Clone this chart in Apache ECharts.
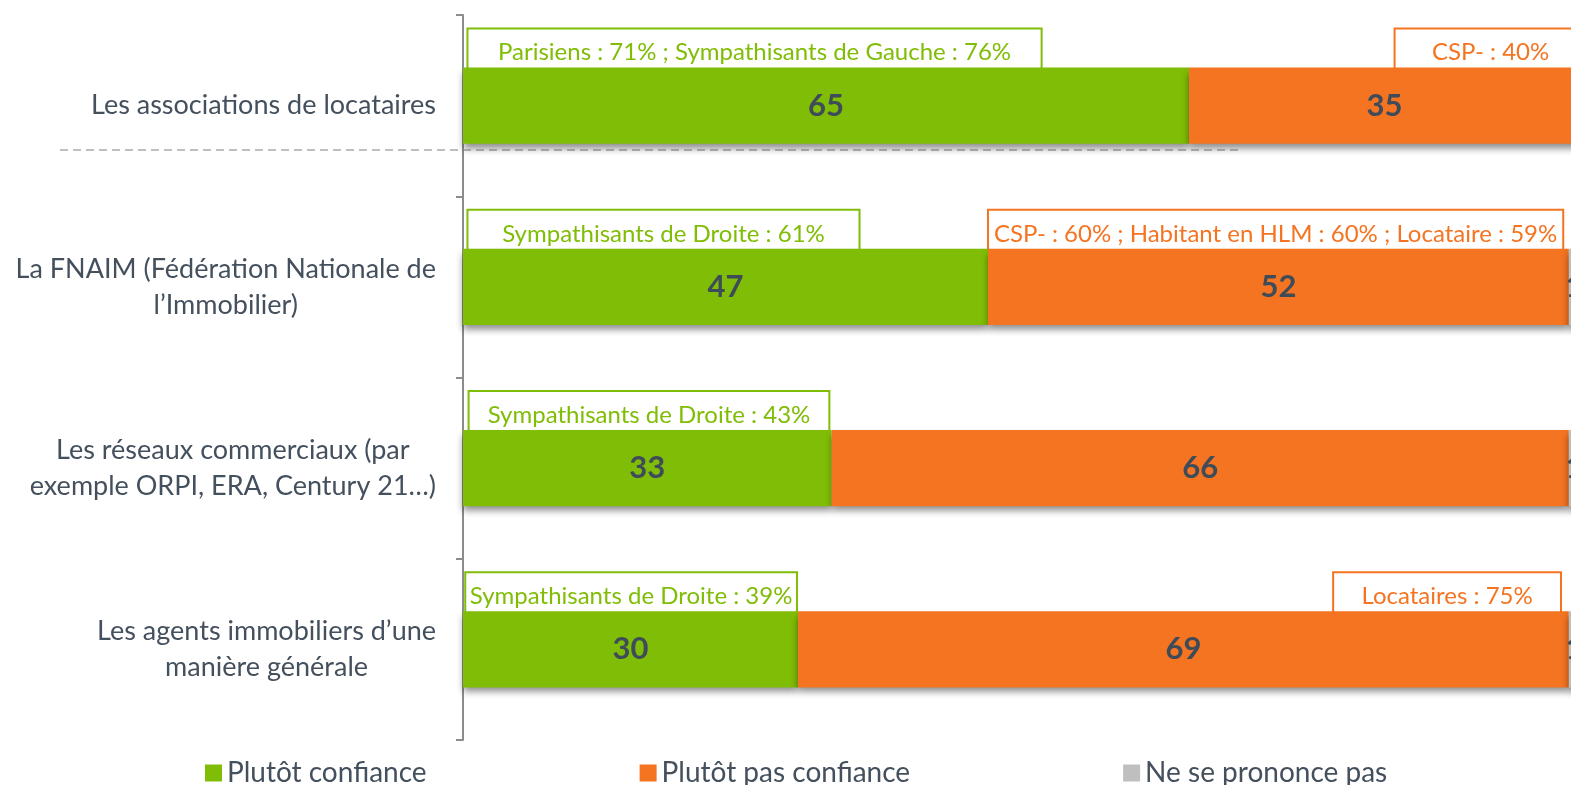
<!DOCTYPE html>
<html>
<head>
<meta charset="utf-8">
<script src="https://cdn.jsdelivr.net/npm/echarts@6/dist/echarts.min.js"></script>
<style>
html, body { margin: 0; padding: 0; background: #fff; }
#chart { width: 1571px; height: 785px; }
</style>
</head>
<body>
<div id="chart"></div>
<script>
// données
const categories = [
    'Les associations de locataires',
    'La FNAIM (Fédération Nationale de\nl’Immobilier)',
    'Les réseaux commerciaux (par\nexemple ORPI, ERA, Century 21…)',
    'Les agents immobiliers d’une\nmanière générale'
];
const seriesNames = ['Plutôt confiance', 'Plutôt pas confiance', 'Ne se prononce pas'];
const confiance = [65, 47, 33, 30];
const pasConfiance = [35, 52, 66, 69];
const nsp = [0, 1, 1, 1];

// encadrés au-dessus des barres : texte, ligne, début et fin (en % de l'axe)
const noteTexts = [
    'Parisiens : 71% ; Sympathisants de Gauche : 76%',
    'CSP- : 40%',
    'Sympathisants de Droite : 61%',
    'CSP- : 60% ; Habitant en HLM : 60% ; Locataire : 59%',
    'Sympathisants de Droite : 43%',
    'Sympathisants de Droite : 39%',
    'Locataires : 75%'
];
const noteRows = [0, 0, 1, 1, 2, 3, 3];
const noteFrom = [0.4, 83.4, 0.4, 47, 0.5, 0.2, 77.9];
const noteTo = [51.8, 100.6, 35.5, 98.5, 32.8, 29.9, 98.3];
const noteSeries = [0, 1, 0, 1, 0, 0, 1];

const colors = ['#80BD06', '#F47421', '#BFBFBF'];
const textColor = '#44505D';
const font = 'Lato';

let chart = echarts.init(document.getElementById('chart'));

function labelFmt(p) {
    return p.value > 0 ? p.value : '';
}

function barSeries(i, values) {
    return {
        name: seriesNames[i],
        type: 'bar',
        stack: 'total',
        barWidth: '42%',
        z: 3,
        data: values,
        itemStyle: {
            color: colors[i],
            shadowColor: 'rgba(0,0,0,0.45)',
            shadowBlur: 7,
            shadowOffsetY: 5
        },
        label: {
            show: true,
            position: 'inside',
            formatter: labelFmt,
            color: '#3E4B59',
            fontFamily: font,
            fontWeight: 'bold',
            fontSize: 31
        }
    };
}

// dessine un encadré blanc dont le bas passe sous la barre
function renderNote(params, api) {
    let i = params.dataIndex;
    let start = api.coord([api.value(0), api.value(2)]);
    let end = api.coord([api.value(1), api.value(2)]);
    let band = api.size([0, 1])[1];
    let barTop = start[1] - band * 0.42 / 2;
    let c = colors[noteSeries[i]];
    return {
        type: 'group',
        children: [
            {
                type: 'rect',
                shape: { x: start[0], y: barTop - 39, width: end[0] - start[0], height: 50 },
                style: { fill: '#fff', stroke: c, lineWidth: 2 }
            },
            {
                type: 'text',
                style: {
                    text: noteTexts[i],
                    x: (start[0] + end[0]) / 2,
                    y: barTop - 15,
                    align: 'center',
                    verticalAlign: 'middle',
                    fill: c,
                    font: '24px ' + font
                }
            }
        ]
    };
}

let noteData = [];
for (let i = 0; i < noteTexts.length; i++) {
    noteData.push([noteFrom[i], noteTo[i], noteRows[i]]);
}

chart.setOption({
    animation: false,
    // la zone de tracé dépasse un peu à droite, comme sur l'original
    grid: { left: 463, right: -9, top: 15, bottom: 45, outerBoundsMode: 'none' },
    xAxis: {
        type: 'value',
        min: 0,
        max: 100,
        show: false
    },
    yAxis: {
        type: 'category',
        inverse: true,
        data: categories,
        axisLine: { show: true, lineStyle: { color: '#8C8C8C', width: 2 } },
        axisTick: { show: true, length: 7, lineStyle: { color: '#8C8C8C', width: 2 } },
        axisLabel: {
            margin: 27,
            color: textColor,
            fontFamily: font,
            fontSize: 27,
            lineHeight: 36,
            formatter: function (v) {
                return v.split('\n').map(function (s) { return '{c|' + s + '}'; }).join('\n');
            },
            rich: {
                c: { align: 'center', color: textColor, fontFamily: font, fontSize: 27, lineHeight: 36 }
            }
        }
    },
    legend: {
        data: seriesNames,
        left: 200,
        top: 754,
        itemGap: 213,
        itemWidth: 17,
        itemHeight: 17,
        icon: 'rect',
        textStyle: { color: textColor, fontFamily: font, fontSize: 28 }
    },
    graphic: [
        {
            type: 'line',
            z: 0,
            shape: { x1: 60, y1: 150, x2: 1240, y2: 150 },
            style: { stroke: '#BFBFBF', lineWidth: 2, lineDash: [8, 5] }
        }
    ],
    series: [
        barSeries(0, confiance),
        barSeries(1, pasConfiance),
        barSeries(2, nsp),
        {
            type: 'custom',
            z: 1,
            clip: false,
            renderItem: renderNote,
            encode: { x: [0, 1], y: 2 },
            data: noteData,
            silent: true
        }
    ]
});
</script>
</body>
</html>
